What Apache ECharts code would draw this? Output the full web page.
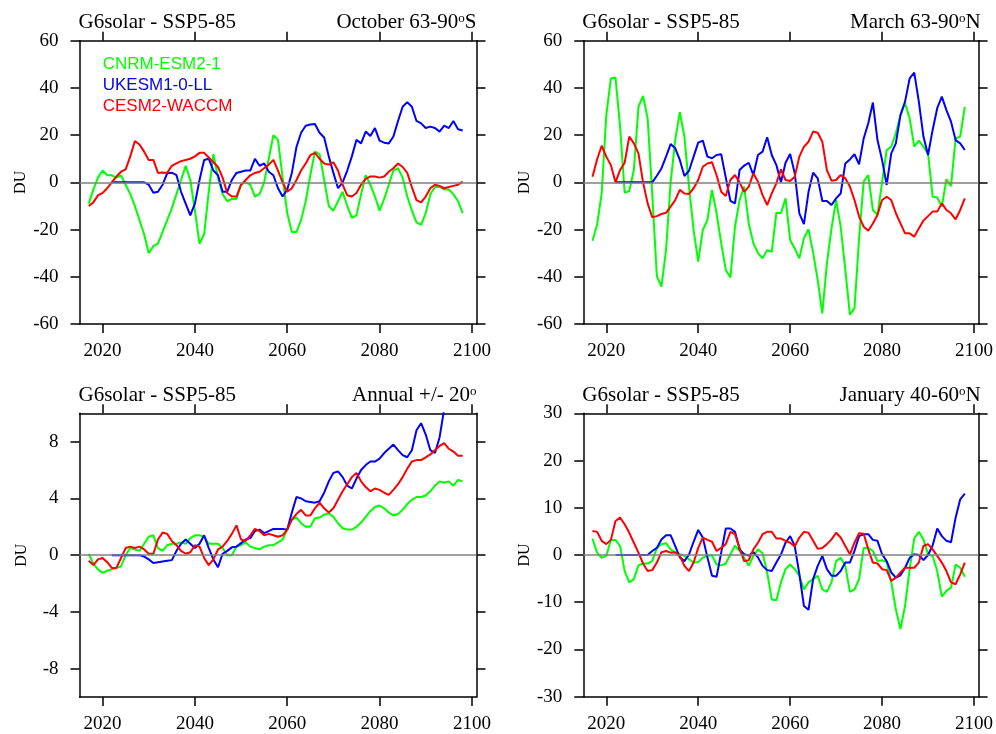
<!DOCTYPE html>
<html>
<head>
<meta charset="utf-8">
<title>G6solar - SSP5-85</title>
<script src="https://cdn.jsdelivr.net/npm/echarts@6.0.0/dist/echarts.min.js"></script>
<style>
  html, body { margin: 0; padding: 0; background: #fff; }
  #chart { width: 996px; height: 734px; }
</style>
</head>
<body>
<div id="chart"></div>
<script>
// ---------------------------------------------------------------
// data (DU, yearly values 2017-2098)
// ---------------------------------------------------------------
const firstYear = 2017
const modelNames = ['CNRM-ESM2-1', 'UKESM1-0-LL', 'CESM2-WACCM']
const modelColors = ['#00ff00', '#0000ff', '#ff0000']
const yearTicks = [2020, 2040, 2060, 2080, 2100]
const annualTicks = [-8, -4, 0, 4, 8]

// October 63-90S
const octCnrm = [-9, -3, 2, 5, 3, 3, 2, 3, -1, -5,
  -10, -16, -22, -30, -27, -26, -21, -16, -11, -5,
  1, 7, 1, -12, -26, -22, -4, 12, 2, -5,
  -8, -7, -7, -1, 0, -1, -6, -5, 0, 10,
  20, 18, 2, -13, -21, -21, -16, -8, 3, 13,
  12, 1, -10, -12, -8, -4, -10, -15, -14, -5,
  3, -1, -6, -12, -7, -1, 5, 6, 2, -6,
  -12, -17, -18, -13, -5, -2, -2, -3, -3, -5,
  -8, -13]
const octUkesm = [null, null, null, null, null, 0, 0, 0, 0, 0,
  0, 0, 0, -1, -4.4, -4, -1, 3.8, 4.1, 3.1,
  -4, -9, -14, -9, 1, 9.5, 10, 5, 3, -4,
  -4, 1, 4, 4.5, 5, 5, 10, 7, 8, 4.5,
  3, -2.5, -6, -3, 4, 15, 21, 24, 24.5, 24.7,
  21, 19, 11, 4, -2.5, 0, 5, 11, 18, 16.5,
  21.5, 19.6, 23, 17.7, 16.8, 16.5, 19.4, 26, 32, 34,
  32, 26, 25, 23, 23.6, 23, 21.5, 24, 23, 26,
  22.5, 22]
const octCesm = [-10, -8.5, -5.5, -4.5, -2.5, 0, 2.5, 4.5, 5.5, 11,
  17.5, 16, 13, 9.5, 9.5, 4, 4.2, 4, 7, 8,
  9, 9.5, 10, 11, 12.5, 12.5, 10.5, 8.5, 6.5, 2,
  -4.5, -6, -6, -1, 1, 3, 4, 4.5, 6, 7.5,
  9.5, 5, 0, -4, -2.5, 1, 5, 8, 11.5, 12.5,
  10, 8, 7.5, 8.5, 5, -1, -5.5, -6, -4.5, -1,
  1.5, 2.5, 2.5, 2, 2.5, 4.5, 6, 8, 6.5, 4,
  -2, -7.5, -8.5, -6, -2.5, -1, -1.5, -2.5, -2, -1.5,
  -1, 0.3]

// March 63-90N
const marCnrm = [-24.7, -18, -4.7, 28.5, 44, 44.4, 23.6, -4.4, -3.7, 5.2,
  32, 36.6, 27, -5, -39.7, -44.2, -28.7, 0, 18, 29.7,
  19.4, -2, -20.2, -33.6, -20.2, -16, -3.2, -13.1, -25.8, -37.1,
  -40.3, -18.8, -7.5, -1.8, -17.4, -25.8, -30, -32.2, -28.7, -29.4,
  -12.9, -13.1, -6.8, -24.4, -28, -32.2, -23.7, -19.9, -29.8, -41.4,
  -55.5, -34.3, -19.5, -7.5, -18.8, -37, -56, -53.4, -23.7, 0.3,
  3.1, -11.7, -13.8, 0, 13.7, 15.1, 20.8, 28.5, 33.5, 27.1,
  15.1, 17.7, 15.1, 12.3, -6.1, -6.4, -10.3, 1.3, -1.6, 18.6,
  19.4, 32]
const marUkesm = [null, null, null, null, null, 0, 0, 0, 0, 0,
  0, 0, 0, 0, 2.8, 5.9, 10.9, 16.2, 14.4, 9.5,
  2.7, 4.9, 10.9, 16.8, 17.7, 10.9, 10.2, 11.6, 11.9, 2,
  -7.8, -8.9, 5.2, 7.1, 8.3, 3.1, 11.6, 13, 19.1, 11.6,
  7.3, 0, 8.3, 12, 3.8, -13.1, -17.7, -4, 4.1, 1.7,
  -7.9, -7.9, -9.6, -6.8, -4.7, 8, 9.7, 11.9, 7.6, 18.6,
  25, 33.8, 17.9, 9.5, -1.1, 12.3, 16.5, 28.5, 34.2, 44,
  46.5, 34.2, 19.4, 11.6, 22.2, 31.4, 36.3, 30.6, 25.7, 17.9,
  16.5, 13.7]
const marCesm = [2.4, 9.7, 15.5, 10.9, 7.3, 0, 5.2, 8.3, 19.4, 16.5,
  12.3, 0, -8.9, -14.8, -14.3, -13.4, -12.9, -10.3, -7.5, -3.2,
  -4.7, -4.9, -2.5, 1, 6.6, 8, 8.5, 3, -4, -5.8,
  1, 3.1, 0, -4, -1.8, 3.8, 0.3, -5.4, -9.6, -4.7,
  -0.4, 5.5, 1, 0.6, 2.4, 10.9, 15.1, 17.2, 21.5, 21,
  17.2, 5.2, 0.7, 1, 3.1, 1.7, -1.8, -7.5, -14.5, -18.8,
  -20.5, -17.4, -13.8, -7.5, -6.1, -7.5, -13.1, -17.4, -21.6, -21.6,
  -23, -19.5, -16.2, -14.3, -12.4, -12.4, -8.9, -11.7, -13.1, -15.7,
  -11.7, -6.8]

// Annual +/- 20
const annCnrm = [0.1, -0.6, -1.0, -1.25, -1.1, -1.0, -0.9, -0.8, 0.0, 0.5,
  0.4, 0.3, 0.8, 1.3, 1.4, 0.5, 0.3, 0.7, 0.8, 0.8,
  0.9, 0.8, 1.2, 1.4, 1.4, 1.3, 0.8, 0.8, 0.8, 0.5,
  0.0, 0.0, 0.6, 0.7, 0.9, 0.6, 0.5, 0.4, 0.6, 0.7,
  0.7, 0.9, 1.1, 1.8, 2.5, 2.65, 2.25, 2.0, 2.0, 2.6,
  2.65, 2.85, 2.95, 2.7, 2.25, 1.9, 1.8, 1.8, 2.0, 2.3,
  2.7, 3.1, 3.4, 3.5, 3.3, 3.0, 2.8, 2.9, 3.2, 3.6,
  3.9, 4.1, 4.1, 4.2, 4.5, 4.9, 5.2, 5.1, 5.2, 4.9,
  5.3, 5.2]
const annUkesm = [null, null, null, null, null, 0, 0, 0, 0, 0,
  0, 0, -0.1, -0.3, -0.55, -0.5, -0.45, -0.4, -0.35, 0.3,
  0.8, 1.1, 0.8, 0.5, 0.8, 1.4, 0.5, -0.3, -0.85, 0.1,
  0.3, 0.55, 0.6, 0.85, 1.1, 1.2, 1.7, 1.8, 1.55, 1.7,
  1.85, 1.85, 1.85, 1.8, 3.0, 4.1, 4.0, 3.8, 3.75, 3.7,
  3.8, 4.4, 5.2, 5.8, 5.9, 5.5, 4.9, 4.7, 5.4, 6.0,
  6.35, 6.6, 6.6, 6.8, 7.2, 7.5, 7.8, 7.4, 7.05, 6.9,
  7.4, 8.8, 9.3, 8.5, 7.4, 7.2, 8.3, 10.3, 11.5]
const annCesm = [-0.4, -0.7, -0.3, -0.2, -0.5, -0.9, -0.9, -0.2, 0.5, 0.6,
  0.5, 0.6, 0.4, 0.1, 0.1, 1.1, 1.6, 1.5, 1.0, 0.7,
  0.3, 0.1, 0.2, 0.7, 0.6, -0.2, -0.7, -0.3, 0.4, 0.6,
  1.0, 1.5, 2.1, 1.1, 1.0, 1.4, 1.85, 1.7, 1.4, 1.5,
  1.4, 1.3, 1.4, 1.8, 2.5, 2.9, 3.2, 2.8, 2.8, 3.3,
  3.7, 3.3, 3.0, 3.3, 3.9, 4.5, 5.0, 5.5, 5.8, 5.2,
  4.8, 4.5, 4.7, 4.6, 4.4, 4.25, 4.6, 5.0, 5.5, 6.1,
  6.6, 6.7, 6.7, 6.9, 7.1, 7.4, 7.7, 7.9, 7.5, 7.3,
  7.0, 7.0]

// January 40-60N
const janCnrm = [3.45, 0.5, -0.6, -0.2, 3.2, 3.2, 1.9, -3.4, -5.8, -5.1,
  -2.2, -1.8, -1.8, -1.3, 1.5, 2.3, 2.5, 1.2, 0.5, 0.2,
  -0.2, -0.9, -1.6, -1.5, -0.6, -0.1, -0.1, -2, -2.2, -1.8,
  0.1, 2.0, 0.85, -0.6, -2.3, -0.2, 1.2, 0.35, -3.7, -9.4,
  -9.6, -5.8, -3, -2, -3, -4.4, -7.3, -5.8, -5.1, -4.4,
  -7.3, -7.8, -5.8, -1.3, -0.6, -2.3, -7.8, -7.3, -5.1, 1.5,
  1.5, 0.85, -1.3, -1.1, -1.5, -5.8, -11.5, -15.7, -10.8, -3,
  3.5, 4.9, 3.3, 0.15, -0.2, -3.4, -8.8, -7.6, -6.9, -2,
  -2.7, -4.6]
const janUkesm = [null, null, null, null, null, 0, 0, 0, 0, 0,
  0, 0, 0, 0.85, 1.5, 3.3, 4.2, 4.2, 1.9, -0.5,
  -1.3, 0.1, 2.8, 5.3, 3.7, -0.5, -4.4, -4.6, 0.5, 5.6,
  5.6, 4.9, 1.2, 0.15, -0.1, 0.6, -0.5, -2.3, -3.2, -3.4,
  -1.6, 0.1, 2.6, 4, 1.9, -4, -10.8, -11.6, -5.1, -2.3,
  -0.2, -3, -4.4, -4.4, -3.4, -1.6, -1.6, 0.85, 4, 4.4,
  4.4, 3.2, 3, 0.15, -1.3, -3.7, -4.8, -4.3, -2.7, -0.6,
  0.15, 0, -1.1, 0, 2, 5.6, 4, 3, 2.7, 7.9,
  11.8, 13]
const janCesm = [5.1, 4.9, 3, 2.3, 3.2, 7.2, 7.9, 6.5, 4.7, 2.6,
  0.5, -1.8, -3.4, -3.2, -1.6, 0.6, 0.85, 0.5, 0.6, -0.2,
  -2.3, -3.4, -1.6, 1.5, 3.7, 3.2, 2.8, 0.85, 1.5, 2.3,
  4.9, 4.4, 1.5, -1.3, -1.1, 1.2, 2.6, 4.4, 4.9, 4.9,
  3.5, 3.5, 3, 2.6, 1.8, 3.7, 4.9, 4.7, 3, 1.3,
  1.5, 2.3, 3.3, 4.7, 3.7, 1.9, 0.15, 2.6, 4.6, 4.5,
  1.2, -1.6, -1.8, -3, -3.2, -5.5, -4.8, -3.7, -2.7, -2.7,
  -2.7, -1.6, 1.9, 2.3, 1.2, -0.2, -1.6, -3.4, -5.8, -6.2,
  -4.1, -1.6]

// ---------------------------------------------------------------
// panel setup
// ---------------------------------------------------------------
const serif = 'Liberation Serif'
const panels = [
  { grid: { left: 79.5, top: 40.7, width: 397, height: 283.3 }, label: 'October 63-90', suffix: 'S',
    min: -60, max: 60, interval: 20, series: [octCnrm, octUkesm, octCesm] },
  { grid: { left: 583.3, top: 40.7, width: 397.4, height: 283.3 }, label: 'March 63-90', suffix: 'N',
    min: -60, max: 60, interval: 20, series: [marCnrm, marUkesm, marCesm] },
  { grid: { left: 79.5, top: 413.3, width: 397, height: 284.4 }, label: 'Annual +/- 20', suffix: '',
    min: -10, max: 10, ticks: annualTicks, series: [annCnrm, annUkesm, annCesm] },
  { grid: { left: 583.3, top: 413.3, width: 397.4, height: 283.4 }, label: 'January 40-60', suffix: 'N',
    min: -30, max: 30, interval: 10, series: [janCnrm, janUkesm, janCesm] }
]

const axisLine = { show: true, onZero: false, lineStyle: { color: '#000', width: 1.5 } }
const tickStyle = { color: '#000', width: 1.5 }
const labelStyle = { fontFamily: serif, fontSize: 19, color: '#000' }
const plainNumber = (v) => String(v)

const titles = []
const grids = []
const xAxes = []
const yAxes = []
const series = []

panels.forEach((p, i) => {
  grids.push(p.grid)
  const rightEdge = 996 - (p.grid.left + p.grid.width)
  const titleTop = p.grid.top - 28.5
  titles.push({
    text: 'G6solar - SSP5-85',
    left: p.grid.left - 1,
    top: titleTop,
    padding: 0,
    textStyle: { fontFamily: serif, fontSize: 21, fontWeight: 'normal', color: '#000' }
  })
  titles.push({
    text: '{n|' + p.label + '}{s|o}' + (p.suffix ? '{n|' + p.suffix + '}' : ''),
    right: rightEdge,
    top: titleTop,
    padding: 0,
    textStyle: {
      fontWeight: 'normal',
      rich: {
        n: { fontFamily: serif, fontSize: 21, fontWeight: 'normal', color: '#000', lineHeight: 21 },
        s: { fontFamily: serif, fontSize: 13, fontWeight: 'normal', color: '#000', verticalAlign: 'top', lineHeight: 13 }
      }
    }
  })

  // bottom + top x axes
  xAxes.push({
    type: 'value', gridIndex: i, position: 'bottom', min: 2015, max: 2101,
    axisLine: axisLine,
    axisTick: { show: true, inside: false, length: 9, customValues: yearTicks, lineStyle: tickStyle },
    axisLabel: { customValues: yearTicks, margin: 18, formatter: plainNumber, ...labelStyle },
    splitLine: { show: false }
  })
  xAxes.push({
    type: 'value', gridIndex: i, position: 'top', min: 2015, max: 2101,
    axisLine: axisLine,
    axisTick: { show: true, inside: false, length: 9, customValues: yearTicks, lineStyle: tickStyle },
    axisLabel: { show: false },
    splitLine: { show: false }
  })

  // left + right y axes
  const yTicks = p.ticks ? { customValues: p.ticks } : {}
  yAxes.push({
    type: 'value', gridIndex: i, position: 'left', min: p.min, max: p.max,
    interval: p.interval,
    name: 'DU', nameLocation: 'middle', nameGap: 50,
    nameTextStyle: { fontFamily: serif, fontSize: 16, color: '#000' },
    axisLine: axisLine,
    axisTick: { show: true, inside: false, length: 9, lineStyle: tickStyle, ...yTicks },
    axisLabel: { margin: 21, formatter: plainNumber, ...labelStyle, ...yTicks },
    splitLine: { show: false }
  })
  yAxes.push({
    type: 'value', gridIndex: i, position: 'right', min: p.min, max: p.max,
    interval: p.interval,
    axisLine: axisLine,
    axisTick: { show: true, inside: false, length: 9, lineStyle: tickStyle, ...yTicks },
    axisLabel: { show: false },
    splitLine: { show: false }
  })

  p.series.forEach((vals, k) => {
    const s = {
      name: modelNames[k],
      type: 'line',
      xAxisIndex: i * 2,
      yAxisIndex: i * 2,
      showSymbol: false,
      symbol: 'none',
      color: modelColors[k],
      lineStyle: { color: modelColors[k], width: 2 },
      data: vals.map((v, j) => [firstYear + j, v])
    }
    if (k === 0) {
      // zero reference line
      s.markLine = {
        silent: true,
        symbol: ['none', 'none'],
        label: { show: false },
        lineStyle: { color: '#808080', width: 1.5, type: 'solid' },
        data: [{ yAxis: 0 }]
      }
    }
    series.push(s)
  })
})

const chart = echarts.init(document.getElementById('chart'))
chart.setOption({
  animation: false,
  backgroundColor: '#fff',
  title: titles,
  legend: {
    left: 97.7,
    top: 56,
    orient: 'vertical',
    padding: 0,
    icon: 'none',
    itemWidth: 0,
    itemHeight: 14,
    itemGap: 4,
    selectedMode: false,
    textStyle: { fontFamily: 'Liberation Sans', fontSize: 17 },
    data: modelNames.map((n, k) => ({ name: n, textStyle: { color: modelColors[k] } }))
  },
  grid: grids,
  xAxis: xAxes,
  yAxis: yAxes,
  series: series
})
</script>
</body>
</html>
